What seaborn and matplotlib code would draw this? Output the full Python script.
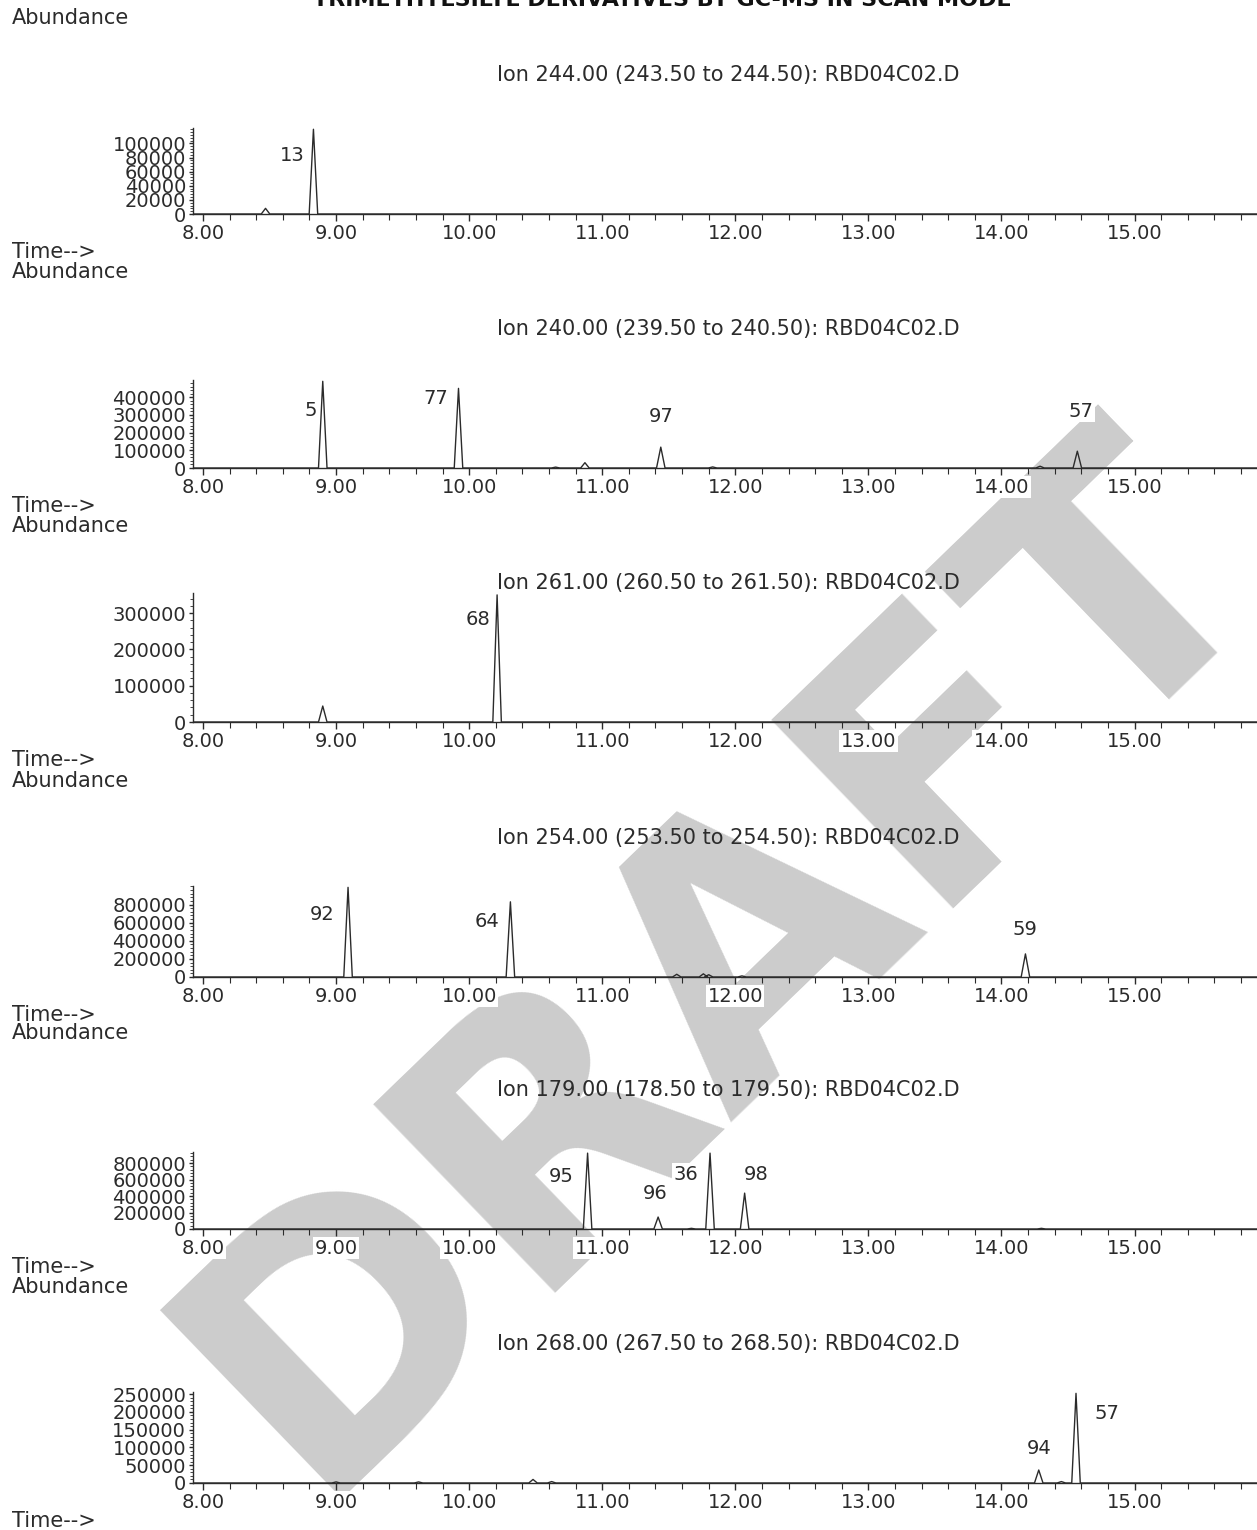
import matplotlib
matplotlib.use("Agg")
import matplotlib.pyplot as plt
from matplotlib.ticker import MultipleLocator, FixedLocator
import numpy as np
import pandas as pd
import seaborn as sns

# ---- data ----
page_title = "TRIMETHYLSILYL DERIVATIVES BY GC-MS IN SCAN MODE"
ion_titles = [
    "Ion 244.00 (243.50 to 244.50): RBD04C02.D",
    "Ion 240.00 (239.50 to 240.50): RBD04C02.D",
    "Ion 261.00 (260.50 to 261.50): RBD04C02.D",
    "Ion 254.00 (253.50 to 254.50): RBD04C02.D",
    "Ion 179.00 (178.50 to 179.50): RBD04C02.D",
    "Ion 268.00 (267.50 to 268.50): RBD04C02.D",
]

# retention time (min), abundance, peak label
ion244_rt = [8.47, 8.83]
ion244_h = [8000, 120000]
ion244_lab = ["", "13"]

ion240_rt = [8.90, 9.92, 10.65, 10.87, 11.44, 11.83, 14.29, 14.57]
ion240_h = [490000, 450000, 5000, 30000, 118000, 6000, 10000, 95000]
ion240_lab = ["5", "77", "", "", "97", "", "", "57"]

ion261_rt = [8.90, 10.21]
ion261_h = [44000, 350000]
ion261_lab = ["", "68"]

ion254_rt = [9.09, 10.31, 11.56, 11.76, 11.80, 12.05, 14.18]
ion254_h = [990000, 830000, 30000, 35000, 25000, 12000, 255000]
ion254_lab = ["92", "64", "", "", "", "", "59"]

ion179_rt = [10.89, 11.42, 11.67, 11.81, 12.07, 14.30]
ion179_h = [920000, 145000, 8000, 920000, 435000, 8000]
ion179_lab = ["95", "96", "", "36", "98", ""]

ion268_rt = [9.00, 9.62, 10.48, 10.62, 14.28, 14.45, 14.56]
ion268_h = [3000, 3000, 10000, 4000, 36500, 4000, 252000]
ion268_lab = ["", "", "", "", "94", "", "57"]

x_ticks = [8, 9, 10, 11, 12, 13, 14, 15]
y_steps = [20000, 100000, 100000, 200000, 200000, 50000]
y_tick_max = [100000, 400000, 300000, 800000, 800000, 250000]

panels = [
    (ion244_rt, ion244_h, ion244_lab),
    (ion240_rt, ion240_h, ion240_lab),
    (ion261_rt, ion261_h, ion261_lab),
    (ion254_rt, ion254_h, ion254_lab),
    (ion179_rt, ion179_h, ion179_lab),
    (ion268_rt, ion268_h, ion268_lab),
]

# ---- layout (pixels, top origin) ----
W, H = 1257, 1530
AX_LEFT = 193
axes_top = [128, 380, 593, 886, 1152, 1392]
axes_bottom = [214, 468, 722, 977, 1229, 1483]
XMIN, XMAX = 7.925, 15.92
HALF_W = 0.032
# label offsets from apex, pixels (dx, dy up)
label_offsets = {
    "13": (-21, -26), "5": (-12, -29), "77": (-23, -10), "97": (0, 31),
    "57a": (4, 40), "68": (-19, -25), "92": (-26, -27), "64": (-23, -20),
    "59": (0, 24), "95": (-26, -23), "96": (-3, 24), "36": (-24, -21),
    "98": (11, 19), "94": (0, 22), "57b": (31, -20),
}

INK = "#2b2b2b"
sns.set_theme(style="ticks")
plt.rcParams.update({
    "font.family": ["DejaVu Sans"],
    "axes.facecolor": "none",
    "figure.facecolor": "white",
    "axes.edgecolor": INK,
    "axes.linewidth": 1.0,
    "xtick.color": INK,
    "ytick.color": INK,
    "text.color": INK,
})

fig = plt.figure(figsize=(W / 100, H / 100), dpi=100)


def fx(px):
    return px / W


def fy(py):
    return 1 - py / H


# watermark behind everything
fig.text(fx(722), fy(962), "DRAFT", rotation=44, fontsize=258, fontweight="heavy",
         color="#cccccc", ha="center", va="center", rotation_mode="anchor", zorder=-5)

fig.text(fx(662), fy(0), page_title, fontsize=16, fontweight="bold", ha="center",
         va="center", color="#111111")

for i, (rt, h, lab) in enumerate(panels):
    top, bot = axes_top[i], axes_bottom[i]
    ax = fig.add_axes([fx(AX_LEFT), fy(bot), 1 - fx(AX_LEFT), (bot - top) / H])

    xs, ys = [XMIN], [0]
    for t, v in sorted(zip(rt, h)):
        xs += [t - HALF_W, t, t + HALF_W]
        ys += [0, v, 0]
    xs.append(XMAX)
    ys.append(0)
    trace = pd.DataFrame({"time": xs, "abundance": ys})
    sns.lineplot(data=trace, x="time", y="abundance", sort=False, estimator=None,
                 color=INK, linewidth=1.0, ax=ax)

    ymax = max(h) * 1.015
    ax.set_xlim(XMIN, XMAX)
    ax.set_ylim(0, ymax)
    ax.set_xlabel("")
    ax.set_ylabel("")
    sns.despine(ax=ax)

    ax.xaxis.set_major_locator(FixedLocator(x_ticks))
    ax.set_xticklabels([f"{t:.2f}" for t in x_ticks], fontsize=14,
                       bbox=dict(facecolor="white", edgecolor="none", pad=1))
    ax.xaxis.set_minor_locator(MultipleLocator(0.2))
    ax.yaxis.set_major_locator(FixedLocator(np.arange(0, y_tick_max[i] + 1, y_steps[i])))
    ax.yaxis.set_minor_locator(MultipleLocator(y_steps[i] / 5))
    ax.yaxis.set_major_formatter(matplotlib.ticker.FuncFormatter(lambda v, p: f"{v:.0f}"))
    ax.tick_params(axis="x", which="major", length=5, width=1, pad=2, labelsize=14)
    ax.tick_params(axis="x", which="minor", length=4, width=0.8)
    ax.tick_params(axis="y", which="major", length=3, width=1, pad=2, labelsize=14)
    ax.tick_params(axis="y", which="minor", length=2, width=0.6)

    for t, v, name in zip(rt, h, lab):
        if not name:
            continue
        key = name
        if name == "57":
            key = "57a" if i == 1 else "57b"
        dx, dy = label_offsets[key]
        ax.annotate(name, xy=(t, v), xytext=(dx, dy), textcoords="offset pixels",
                    ha="center", va="center", fontsize=14, annotation_clip=False,
                    bbox=dict(facecolor="white", edgecolor="none", pad=1))

    fig.text(fx(12), fy(bot - 196), "Abundance", fontsize=15, ha="left", va="center")
    fig.text(fx(12), fy(bot + 38), "Time-->", fontsize=15, ha="left", va="center")
    fig.text(fx(728), fy(bot - 139), ion_titles[i], fontsize=15, ha="center", va="center")

fig.savefig("out.png", dpi=100)
plt.close(fig)
